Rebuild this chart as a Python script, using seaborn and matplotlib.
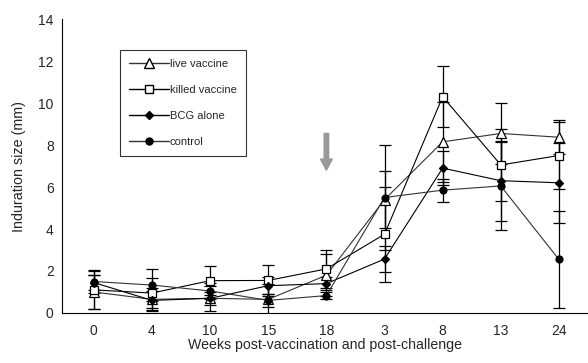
import numpy as np
import pandas as pd
import seaborn as sns
import matplotlib.pyplot as plt
from matplotlib.lines import Line2D

weeks = ["0", "4", "10", "15", "18", "3", "8", "13", "24"]
groups = ["live vaccine", "killed vaccine", "BCG alone", "control"]

live = [1.0, 0.65, 0.7, 0.65, 1.8, 5.4, 8.15, 8.55, 8.37]
killed = [1.1, 0.95, 1.54, 1.55, 2.1, 3.75, 10.3, 7.05, 7.5]
bcg = [1.45, 0.6, 0.7, 1.3, 1.4, 2.57, 6.9, 6.3, 6.2]
control = [1.5, 1.33, 1.05, 0.6, 0.83, 5.5, 5.85, 6.05, 2.55]

live_err = [0.8, 0.55, 0.6, 0.75, 1.0, 1.35, 1.9, 1.45, 0.8]
killed_err = [0.9, 0.7, 0.68, 0.73, 0.9, 2.25, 1.45, 1.7, 1.6]
bcg_err = [0.35, 0.45, 0.3, 0.4, 0.3, 0.6, 0.8, 1.9, 1.9]
control_err = [0.55, 0.75, 0.4, 0.3, 0.15, 2.5, 0.55, 2.1, 2.3]

sns.set_style("white")
plt.rcParams["font.family"] = ["Liberation Sans", "DejaVu Sans"]

values = [live, killed, bcg, control]
errors = [live_err, killed_err, bcg_err, control_err]
pos = np.arange(len(weeks))
df = pd.DataFrame({
    "pos": np.tile(pos, len(groups)),
    "size": np.concatenate(values),
    "err": np.concatenate(errors),
    "group": np.repeat(groups, len(weeks)),
})

markers = {"live vaccine": "^", "killed vaccine": "s", "BCG alone": "D", "control": "o"}
mfc = {"live vaccine": "white", "killed vaccine": "white", "BCG alone": "black", "control": "black"}
msize = {"live vaccine": 6.5, "killed vaccine": 6, "BCG alone": 4.5, "control": 5}
lcol = {"live vaccine": "#333333", "killed vaccine": "black", "BCG alone": "black", "control": "#333333"}

fig = plt.figure(figsize=(5.88, 3.63), dpi=100)
ax = fig.add_axes([62 / 588, 1 - 313 / 363, 526 / 588, 294 / 363])

for g in groups:
    sub = df[df["group"] == g]
    ax.errorbar(sub["pos"], sub["size"], yerr=sub["err"], fmt="none",
                ecolor="black", elinewidth=0.9, capsize=4, capthick=0.9, zorder=2)
    sns.lineplot(data=sub, x="pos", y="size", ax=ax, color=lcol[g], lw=0.8,
                 marker=markers[g], markersize=msize[g], markerfacecolor=mfc[g],
                 markeredgecolor="black", markeredgewidth=0.9, zorder=3)

ax.annotate("", xy=(4, 6.8), xytext=(4, 8.55),
            arrowprops=dict(facecolor="#999999", edgecolor="#999999",
                            width=3.2, headwidth=8.5, headlength=8))

ax.set_xlim(-0.548, 8.46)
ax.set_ylim(0, 14)
ax.set_yticks(np.arange(0, 15, 2))
ax.set_xticks(pos)
ax.set_xticklabels(weeks)
ax.set_xticks(np.arange(-0.5, 8.6, 1), minor=True)
ax.tick_params(axis="x", which="major", length=0, labelsize=10, pad=8)
ax.tick_params(axis="x", which="minor", length=4, width=0.8, direction="out")
ax.tick_params(axis="y", length=4, width=0.8, direction="out", labelsize=10, pad=2)
ax.set_xlabel("Weeks post-vaccination and post-challenge", fontsize=10.2, labelpad=0)
ax.set_ylabel("Induration size (mm)", fontsize=10.3, labelpad=9)
for s in ["top", "right"]:
    ax.spines[s].set_visible(False)
for s in ["left", "bottom"]:
    ax.spines[s].set_color("black")
    ax.spines[s].set_linewidth(0.8)

handles = [Line2D([0], [0], color=lcol[g], lw=1.0, marker=markers[g],
                  markersize=msize[g], markerfacecolor=mfc[g],
                  markeredgecolor="black") for g in groups]
leg = ax.legend(handles, groups, loc="upper left", bbox_to_anchor=(0.110, 0.895),
                borderaxespad=0, fontsize=8, handlelength=3.6, handletextpad=0.1,
                labelspacing=1.45, frameon=True, fancybox=False, borderpad=0.8)
leg.get_frame().set_edgecolor("black")
leg.get_frame().set_linewidth(0.8)

fig.savefig("out.png", dpi=100)
